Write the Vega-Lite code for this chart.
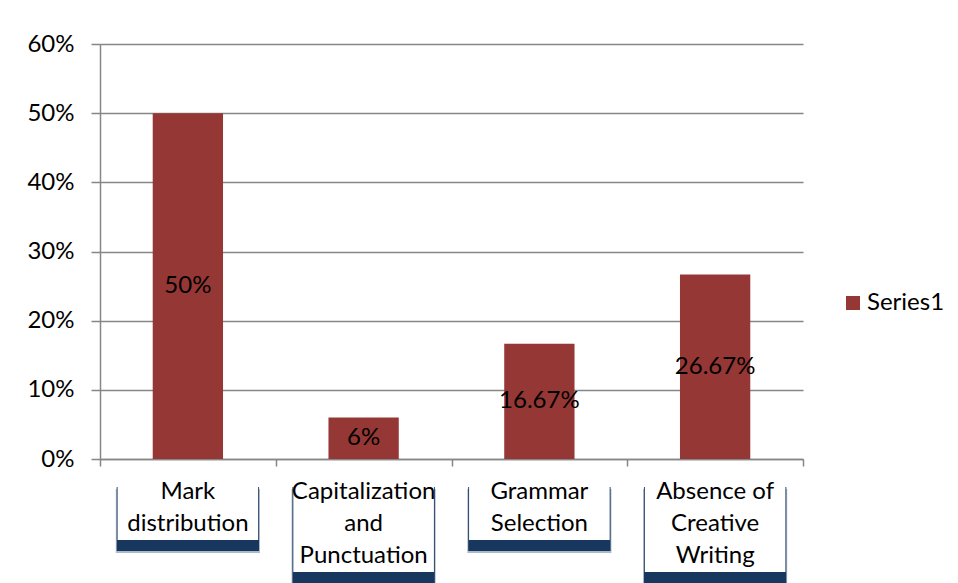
{
  "$schema": "https://vega.github.io/schema/vega-lite/v6.json",
  "background": "white",
  "padding": {"left": 26, "top": 32, "right": 0, "bottom": 0},
  "datasets": {
    "errors": [
      {"category": "Mark distribution", "share": 0.5, "series": "Series1", "lines": ["Mark", "distribution"]},
      {"category": "Capitalization and Punctuation", "share": 0.06, "series": "Series1", "lines": ["Capitalization", "and", "Punctuation"]},
      {"category": "Grammar Selection", "share": 0.1667, "series": "Series1", "lines": ["Grammar", "Selection"]},
      {"category": "Absence of Creative Writing", "share": 0.2667, "series": "Series1", "lines": ["Absence of", "Creative", "Writing"]}
    ]
  },
  "bounds": "flush",
  "spacing": 17,
  "vconcat": [
    {
      "width": 703,
      "height": 415,
      "data": {"name": "errors"},
      "encoding": {
        "x": {
          "field": "category",
          "type": "nominal",
          "sort": null,
          "scale": {"paddingInner": 0, "paddingOuter": 0},
          "axis": {"labels": false, "title": null, "tickBand": "extent", "tickSize": 7, "domainWidth": 1.5, "tickWidth": 1.5}
        }
      },
      "layer": [
        {
          "mark": {"type": "bar", "color": "#953735", "width": {"band": 0.4}},
          "encoding": {
            "y": {
              "field": "share",
              "type": "quantitative",
              "scale": {"domain": [0, 0.6]},
              "axis": {
                "title": null,
                "format": ".0%",
                "values": [0, 0.1, 0.2, 0.3, 0.4, 0.5, 0.6],
                "tickSize": 9,
                "labelPadding": 17,
                "grid": true,
                "gridWidth": 1.5,
                "domainWidth": 1.5,
                "tickWidth": 1.5
              }
            },
            "color": {
              "field": "series",
              "type": "nominal",
              "scale": {"range": ["#953735"]},
              "legend": {
                "title": null,
                "orient": "none",
                "legendX": 741,
                "legendY": 247,
                "symbolType": "square",
                "symbolSize": 196,
                "symbolStrokeWidth": 0,
                "labelFont": "Lato",
                "labelFontSize": 24,
                "labelColor": "black",
                "labelOffset": 2,
                "padding": 0
              }
            }
          }
        },
        {
          "mark": {"type": "text", "font": "Lato", "fontSize": 24, "color": "black", "baseline": "middle"},
          "encoding": {
            "y": {"field": "share", "type": "quantitative", "scale": {"domain": [0, 1.2]}, "axis": null},
            "text": {"field": "share", "type": "quantitative", "format": ".2~%"}
          }
        }
      ],
      "resolve": {"scale": {"y": "independent"}}
    },
    {
      "width": 703,
      "height": 96,
      "data": {"name": "errors"},
      "transform": [
        {"flatten": ["lines"], "as": ["line"]},
        {"window": [{"op": "row_number", "as": "lineNo"}], "groupby": ["category"]}
      ],
      "encoding": {
        "x": {
          "field": "category",
          "type": "nominal",
          "sort": null,
          "scale": {"paddingInner": 0, "paddingOuter": 0},
          "axis": null
        },
        "y": {
          "field": "lineNo",
          "type": "ordinal",
          "scale": {"domain": [1, 2, 3], "paddingInner": 0, "paddingOuter": 0},
          "axis": null
        }
      },
      "layer": [
        {"mark": {"type": "rect", "color": "#17375e", "opacity": 0.35, "width": {"band": 0.82}, "yOffset": 13, "y2Offset": 13}},
        {"mark": {"type": "rect", "color": "#17375e", "width": {"band": 0.81}, "yOffset": 11, "y2Offset": 11}},
        {"mark": {"type": "rect", "color": "white", "width": {"band": 0.8}}},
        {
          "mark": {"type": "text", "font": "Lato", "fontSize": 24, "color": "black", "baseline": "middle"},
          "encoding": {"text": {"field": "line", "type": "nominal"}}
        }
      ]
    }
  ],
  "config": {
    "font": "Lato",
    "view": {"stroke": null},
    "axis": {
      "labelFont": "Lato",
      "labelFontSize": 24,
      "labelColor": "black",
      "domainColor": "#868686",
      "tickColor": "#868686",
      "gridColor": "#868686"
    }
  }
}
